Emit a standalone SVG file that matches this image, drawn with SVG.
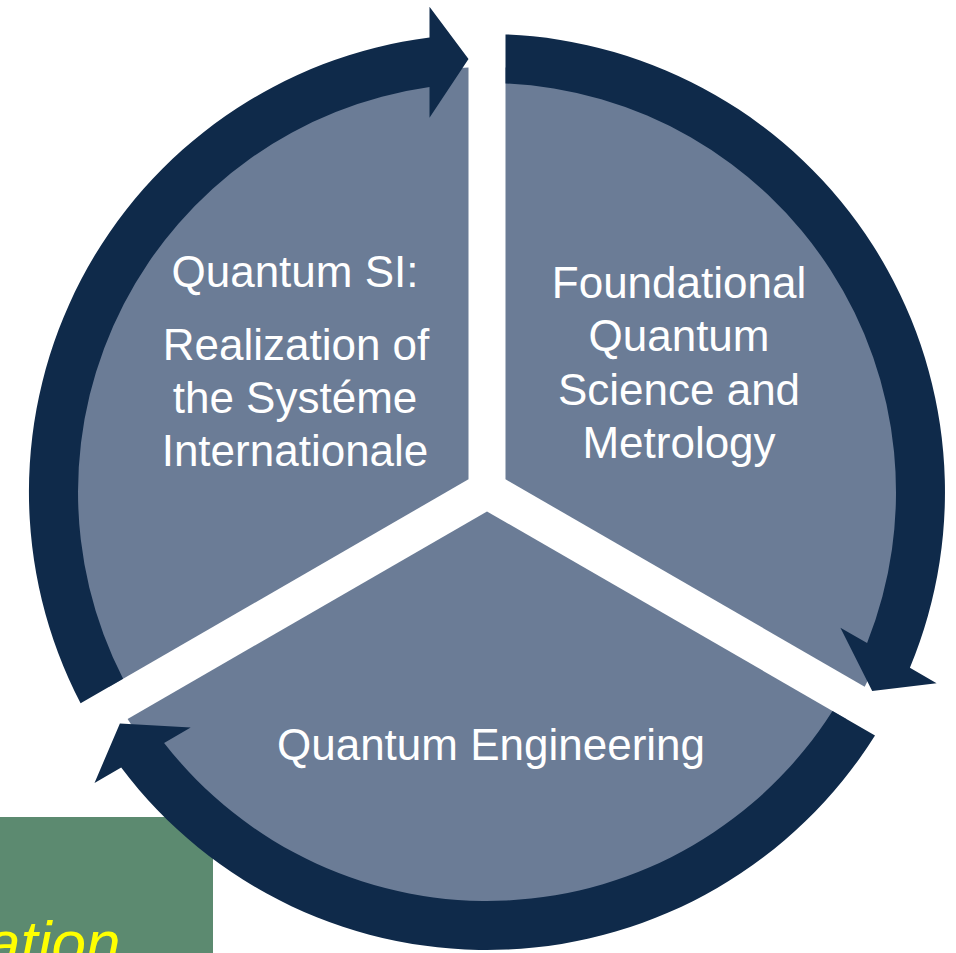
<svg xmlns="http://www.w3.org/2000/svg" width="956" height="953" viewBox="0 0 956 953">
  <style>
    .seg { fill: #6B7C96; }
    .arr { fill: #0F2A4A; }
    .lbl { font-family: "Liberation Sans", Arial, sans-serif; font-size: 44px; fill: #FFFFFF; text-anchor: middle; }
    .note { fill: #5C8A70; }
    .notetxt { font-family: "Liberation Sans", Arial, sans-serif; font-size: 62px; font-style: italic; fill: #FFFF00; }
  </style>
  <rect width="956" height="953" fill="#FFFFFF"/>
  <g id="note-box">
    <rect class="note" x="0" y="817" width="213" height="136"/>
    <text class="notetxt" x="-14" y="964">ation</text>
  </g>
  <g id="node-quantum-si">
    <path class="seg" d="M468.5,479.3 L468.5,67.4 A425,425 0 0 0 109.3,686.7 Z"/>
    <text class="lbl" x="295" y="287">Quantum SI:</text>
    <text class="lbl" x="296" y="360">Realization of</text>
    <text class="lbl" x="295" y="413">the Systéme</text>
    <text class="lbl" x="295" y="466">Internationale</text>
  </g>
  <g id="node-foundational">
    <path class="seg" d="M505.5,479.3 L505.5,67.4 A425,425 0 0 1 864.7,686.7 Z"/>
    <text class="lbl" x="679" y="298">Foundational</text>
    <text class="lbl" x="679" y="351">Quantum</text>
    <text class="lbl" x="679" y="405">Science and</text>
    <text class="lbl" x="679" y="458">Metrology</text>
  </g>
  <g id="node-engineering">
    <path class="seg" d="M487,511.4 L127.6,718.9 A425,425 0 0 0 846.4,718.9 Z"/>
    <text class="lbl" x="491" y="760">Quantum Engineering</text>
  </g>
  <g id="connectors">
    <path class="arr" d="M123.1,678.7 L80.6,703.3 A458,458 0 0 1 429.5,37.6 L429.5,6.8 L468.5,58.9 L429.5,117.8 L429.5,87.1 A409,409 0 0 0 123.1,678.7 Z"/>
    <path class="arr" d="M505.5,83.4 L505.5,34.4 A458,458 0 0 1 909.9,667.8 L936.6,683.2 L872.2,691.0 L840.4,627.7 L867.1,643.0 A409,409 0 0 0 505.5,83.4 Z"/>
    <path class="arr" d="M832.5,710.9 L875.0,735.4 A458,458 0 0 1 121.2,767.6 L94.5,783.0 L119.9,723.4 L190.7,727.6 L164.1,742.9 A409,409 0 0 0 832.5,710.9 Z"/>
  </g>
</svg>
